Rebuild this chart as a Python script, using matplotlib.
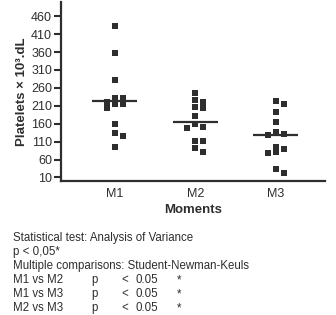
import numpy as np
import matplotlib.pyplot as plt

plt.rcParams['font.family'] = ['Liberation Sans', 'DejaVu Sans']

moments = ['M1', 'M2', 'M3']
m1 = [432, 356, 281, 233, 233, 221, 216, 215, 205, 159, 133, 125, 94]
m2 = [247, 226, 221, 207, 204, 181, 159, 151, 149, 111, 111, 91, 82]
m3 = [223, 216, 193, 165, 136, 131, 128, 96, 89, 82, 77, 33, 21]
medians = [224, 166, 128]
yticks = [10, 60, 110, 160, 210, 260, 310, 360, 410, 460]

notes = [
    "Statistical test: Analysis of Variance",
    "p < 0,05*",
    "Multiple comparisons: Student-Newman-Keuls",
]
comparisons = [("M1 vs M2", "p", "<", "0.05", "*"),
               ("M1 vs M3", "p", "<", "0.05", "*"),
               ("M2 vs M3", "p", "<", "0.05", "*")]

dark = '#2e2e2e'


def swarm(vals, gap=12.5, step=0.1):
    # simple beeswarm: push colliding points sideways
    placed = []
    offs = []
    for v in vals:
        for k in [0, 1, -1, 2, -2, 3, -3]:
            o = k * step
            if all(abs(v - pv) >= gap or abs(o - po) > 1e-9 for pv, po in placed):
                break
        placed.append((v, o))
        offs.append(o)
    return np.array(offs)


fig = plt.figure(figsize=(3.36, 3.15), dpi=100)
ax = fig.add_axes([0.1815, 0.4254, 0.7855, 0.5686])

for i, vals in enumerate([m1, m2, m3]):
    x = i + 1 + swarm(vals)
    ax.plot(x, vals, 's', color=dark, markersize=4.3, markeredgewidth=0)
    ax.plot([i + 1 - 0.28, i + 1 + 0.28], [medians[i], medians[i]],
            color=dark, lw=1.6, solid_capstyle='butt')

ax.set_xlim(0.33, 3.61)
ax.set_ylim(0, 500)
ax.set_yticks(yticks)
ax.set_xticks([1, 2, 3])
ax.set_xticklabels(moments)
ax.tick_params(axis='y', length=5, width=1.5, pad=1.5, labelsize=9, colors=dark)
ax.tick_params(axis='x', length=0, pad=5, labelsize=9, colors=dark)
for s in ['top', 'right']:
    ax.spines[s].set_visible(False)
for s in ['left', 'bottom']:
    ax.spines[s].set_linewidth(1.6)
    ax.spines[s].set_color(dark)

ax.set_ylabel("Platelets × 10³.dL", fontsize=9.5, fontweight='bold', color=dark, labelpad=2)
ax.set_xlabel("Moments", fontsize=9.5, fontweight='bold', color=dark, labelpad=3)

y0 = 237.7
dy = 14.1
for j, t in enumerate(notes):
    fig.text(13 / 336, 1 - (y0 + j * dy) / 315, t, fontsize=8.3, color=dark, va='center')
cols = [13, 91, 121, 136, 177]
for j, row in enumerate(comparisons):
    yy = 1 - (y0 + (j + 3) * dy) / 315
    for cx, t in zip(cols, row):
        fig.text(cx / 336, yy, t, fontsize=8.3, color=dark, va='center')

fig.savefig('out.png', dpi=100)
